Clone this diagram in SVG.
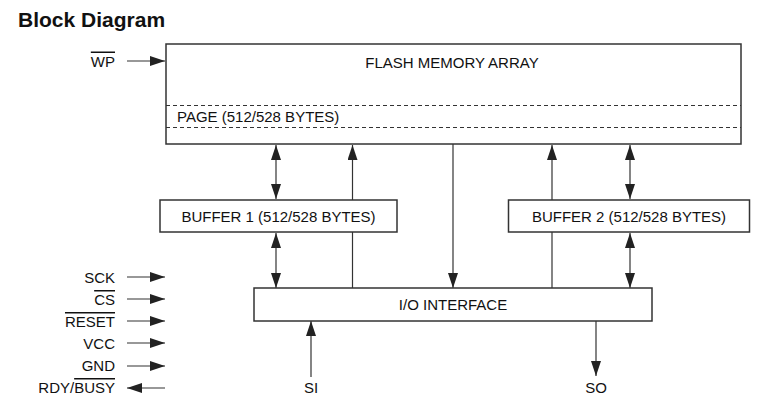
<svg xmlns="http://www.w3.org/2000/svg" width="780" height="413" viewBox="0 0 780 413">
<defs>
<marker id="ah" viewBox="0 0 15 10" refX="15" refY="5" markerWidth="15" markerHeight="10" markerUnits="userSpaceOnUse" orient="auto-start-reverse">
<path d="M0,0 L15,5 L0,10 Z" fill="#222"/>
</marker>
</defs>
<style>
.box{fill:#fff;stroke:#333;stroke-width:1.5}
.dash{stroke:#333;stroke-width:1;stroke-dasharray:4,3;fill:none}
.t{font-family:"Liberation Sans",Arial,sans-serif;font-size:15px;fill:#111}
.a{stroke:#333;stroke-width:1.2;fill:none;marker-end:url(#ah)}
.d{stroke:#333;stroke-width:1.2;fill:none;marker-end:url(#ah);marker-start:url(#ah)}
.ol{text-decoration:overline}
</style>
<rect width="780" height="413" fill="#fff"/>
<text x="18" y="27" style="font-family:'Liberation Sans',Arial,sans-serif;font-size:21px;font-weight:bold;fill:#111">Block Diagram</text>

<g id="connectors">
<line class="a" x1="127" y1="61" x2="165" y2="61"/>
<line class="d" x1="276" y1="145" x2="276" y2="199"/>
<line class="a" x1="352.5" y1="288" x2="352.5" y2="145"/>
<line class="d" x1="276" y1="233" x2="276" y2="288"/>
<line class="a" x1="453" y1="144" x2="453" y2="288"/>
<line class="a" x1="552" y1="288" x2="552" y2="145"/>
<line class="d" x1="630" y1="145" x2="630" y2="199"/>
<line class="d" x1="630" y1="233" x2="630" y2="288"/>
<line class="a" x1="311" y1="377" x2="311" y2="321"/>
<line class="a" x1="596" y1="321" x2="596" y2="376"/>
<line class="a" x1="127" y1="277" x2="165" y2="277"/>
<line class="a" x1="127" y1="299" x2="165" y2="299"/>
<line class="a" x1="127" y1="321" x2="165" y2="321"/>
<line class="a" x1="127" y1="343" x2="165" y2="343"/>
<line class="a" x1="127" y1="366" x2="165" y2="366"/>
<line class="a" x1="165" y1="388" x2="127" y2="388"/>
</g>

<g id="flash">
<rect class="box" x="166" y="44" width="575" height="100"/>
<line class="dash" x1="166" y1="105.5" x2="741" y2="105.5"/>
<line class="dash" x1="166" y1="127.5" x2="741" y2="127.5"/>
<text class="t" x="452" y="68" text-anchor="middle">FLASH MEMORY ARRAY</text>
<text class="t" x="177" y="121.5">PAGE (512/528 BYTES)</text>
</g>

<g id="buffer1">
<rect class="box" x="160" y="200" width="237" height="32"/>
<text class="t" x="278.5" y="222" text-anchor="middle">BUFFER 1 (512/528 BYTES)</text>
</g>

<g id="buffer2">
<rect class="box" x="508.5" y="200" width="241" height="32"/>
<text class="t" x="629" y="222" text-anchor="middle">BUFFER 2 (512/528 BYTES)</text>
</g>

<g id="io">
<rect class="box" x="254" y="288" width="398" height="33"/>
<text class="t" x="453" y="310" text-anchor="middle">I/O INTERFACE</text>
</g>

<g id="labels">
<text class="t" x="115" y="66.5" text-anchor="end"><tspan class="ol">WP</tspan></text>
<text class="t" x="115" y="283" text-anchor="end">SCK</text>
<text class="t" x="115" y="305" text-anchor="end"><tspan class="ol">CS</tspan></text>
<text class="t" x="115" y="327" text-anchor="end"><tspan class="ol">RESET</tspan></text>
<text class="t" x="115" y="349" text-anchor="end">VCC</text>
<text class="t" x="115" y="371" text-anchor="end">GND</text>
<text class="t" x="115" y="393" text-anchor="end">RDY/<tspan class="ol">BUSY</tspan></text>
<text class="t" x="311" y="392.5" text-anchor="middle">SI</text>
<text class="t" x="596" y="392.5" text-anchor="middle">SO</text>
</g>
</svg>
